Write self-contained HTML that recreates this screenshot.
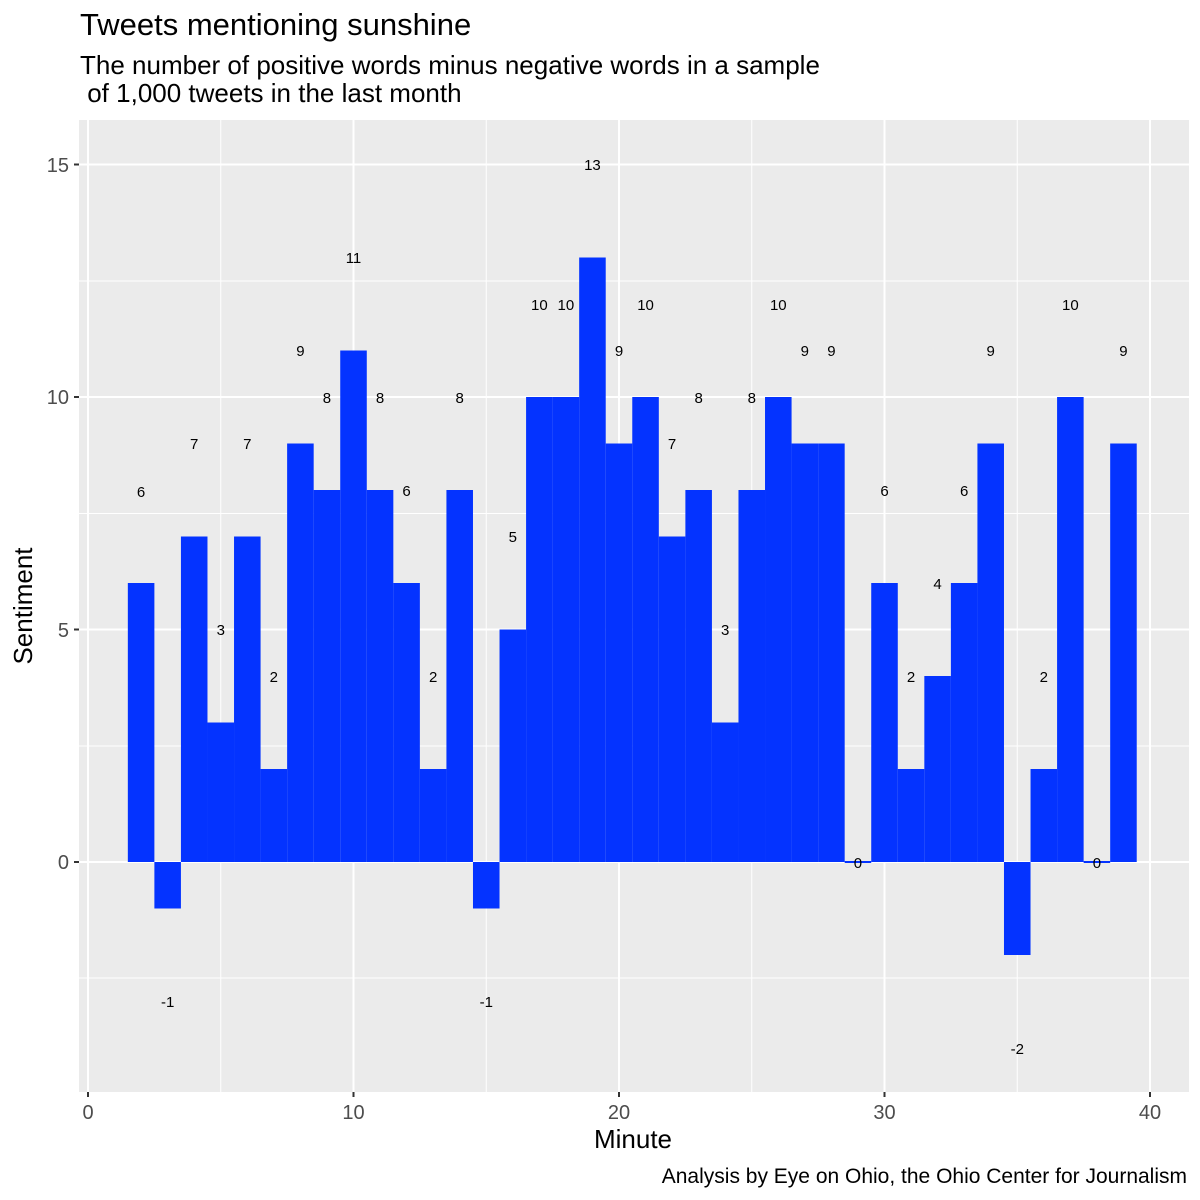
<!DOCTYPE html>
<html><head><meta charset="utf-8"><style>
body{margin:0;background:#fff}
svg{display:block;font-family:"Liberation Sans",Arial,sans-serif}
</style></head><body>
<svg id="s" width="1200" height="1200" viewBox="0 0 1200 1200" xmlns="http://www.w3.org/2000/svg">
<rect width="1200" height="1200" fill="#fff"/>
<rect x="79" y="120" width="1110" height="972" fill="#ebebeb"/>
<g stroke="#fff" stroke-width="1">
<line x1="79" x2="1189" y1="281" y2="281"/><line x1="79" x2="1189" y1="513.5" y2="513.5"/><line x1="79" x2="1189" y1="746" y2="746"/><line x1="79" x2="1189" y1="978" y2="978"/>
<line y1="120" y2="1092" x1="220.75" x2="220.75"/><line y1="120" y2="1092" x1="486.25" x2="486.25"/><line y1="120" y2="1092" x1="751.75" x2="751.75"/><line y1="120" y2="1092" x1="1017.25" x2="1017.25"/>
</g>
<g stroke="#fff" stroke-width="2">
<line x1="79" x2="1189" y1="164.5" y2="164.5"/><line x1="79" x2="1189" y1="397" y2="397"/><line x1="79" x2="1189" y1="629.5" y2="629.5"/><line x1="79" x2="1189" y1="862" y2="862"/>
<line y1="120" y2="1092" x1="88" x2="88"/><line y1="120" y2="1092" x1="353.5" x2="353.5"/><line y1="120" y2="1092" x1="619" x2="619"/><line y1="120" y2="1092" x1="884.5" x2="884.5"/><line y1="120" y2="1092" x1="1150" x2="1150"/>
</g>
<g id="bars" fill="#0433ff"></g>
<g font-size="15" fill="#000" text-anchor="middle">
<text x="141.1" y="497">6</text><text x="167.65" y="1007">-1</text><text x="194.2" y="449">7</text><text x="220.75" y="635">3</text><text x="247.3" y="449">7</text><text x="273.85" y="682">2</text><text x="300.4" y="356">9</text><text x="326.95" y="403">8</text><text x="353.5" y="263">11</text><text x="380.05" y="403">8</text><text x="406.6" y="496">6</text><text x="433.15" y="682">2</text><text x="459.7" y="403">8</text><text x="486.25" y="1007">-1</text><text x="512.8" y="542">5</text><text x="539.35" y="310">10</text><text x="565.9" y="310">10</text><text x="592.45" y="170">13</text><text x="619" y="356">9</text><text x="645.55" y="310">10</text><text x="672.1" y="449">7</text><text x="698.65" y="403">8</text><text x="725.2" y="635">3</text><text x="751.75" y="403">8</text><text x="778.3" y="310">10</text><text x="804.85" y="356">9</text><text x="831.4" y="356">9</text><text x="857.95" y="868">0</text><text x="884.5" y="496">6</text><text x="911.05" y="682">2</text><text x="937.6" y="589">4</text><text x="964.15" y="496">6</text><text x="990.7" y="356">9</text><text x="1017.25" y="1054">-2</text><text x="1043.8" y="682">2</text><text x="1070.35" y="310">10</text><text x="1096.9" y="868">0</text><text x="1123.45" y="356">9</text>
</g>
<g stroke="#333" stroke-width="2">
<line x1="74" x2="79" y1="164.5" y2="164.5"/><line x1="74" x2="79" y1="397" y2="397"/><line x1="74" x2="79" y1="629.5" y2="629.5"/><line x1="74" x2="79" y1="862" y2="862"/>
<line y1="1092" y2="1097" x1="88" x2="88"/><line y1="1092" y2="1097" x1="353.5" x2="353.5"/><line y1="1092" y2="1097" x1="619" x2="619"/><line y1="1092" y2="1097" x1="884.5" x2="884.5"/><line y1="1092" y2="1097" x1="1150" x2="1150"/>
</g>
<g font-size="20" fill="#4d4d4d" text-anchor="end">
<text x="69" y="172">15</text><text x="69" y="404">10</text><text x="69" y="637">5</text><text x="69" y="869">0</text>
</g>
<g font-size="20" fill="#4d4d4d" text-anchor="middle">
<text x="88" y="1119">0</text><text x="353.5" y="1119">10</text><text x="619" y="1119">20</text><text x="884.5" y="1119">30</text><text x="1150" y="1119">40</text>
</g>
<text x="633" y="1148" font-size="26" text-anchor="middle">Minute</text>
<text transform="translate(32,606) rotate(-90)" font-size="26" text-anchor="middle">Sentiment</text>
<text x="80" y="35" font-size="31">Tweets mentioning sunshine</text>
<text x="80" y="74" font-size="26">The number of positive words minus negative words in a sample</text>
<text x="80" y="102" font-size="26" xml:space="preserve"> of 1,000 tweets in the last month</text>
<text x="1187" y="1183" font-size="21" text-anchor="end">Analysis by Eye on Ohio, the Ohio Center for Journalism</text>
</svg>
<script>
var v=[6,-1,7,3,7,2,9,8,11,8,6,2,8,-1,5,10,10,13,9,10,7,8,3,8,10,9,9,0,6,2,4,6,9,-2,2,10,0,9];
var g=document.getElementById('bars'),h='';
for(var i=0;i<v.length;i++){var x=i+2,l=88+26.55*(x-0.5),y0=862-46.5*Math.max(v[i],0),hh=Math.abs(v[i])*46.5;if(hh<1.5){y0=861;hh=2;}
h+='<rect x="'+l.toFixed(2)+'" y="'+y0.toFixed(2)+'" width="26.55" height="'+hh.toFixed(2)+'"/>';}
g.innerHTML=h;
</script>
</body></html>
